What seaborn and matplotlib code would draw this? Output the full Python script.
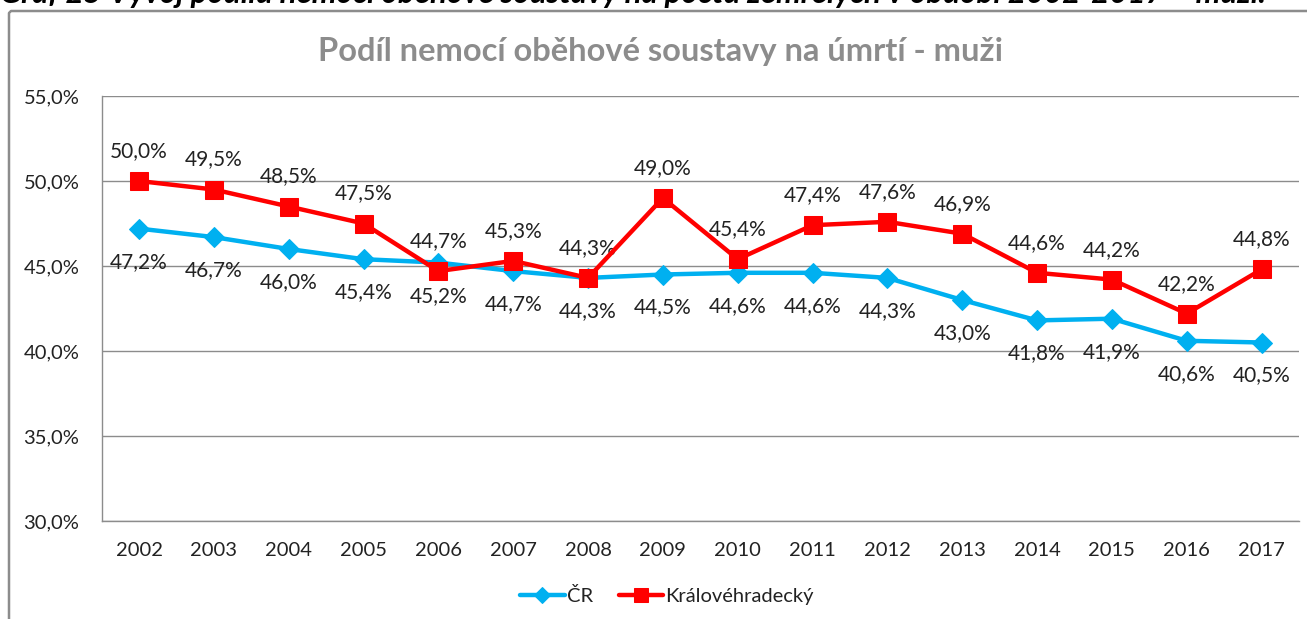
import matplotlib
matplotlib.use("Agg")
import matplotlib.pyplot as plt
import seaborn as sns
import pandas as pd
from matplotlib.lines import Line2D
from matplotlib.ticker import FuncFormatter, MultipleLocator

years = ["2002", "2003", "2004", "2005", "2006", "2007", "2008", "2009",
         "2010", "2011", "2012", "2013", "2014", "2015", "2016", "2017"]
cr_values = [47.2, 46.7, 46.0, 45.4, 45.2, 44.7, 44.3, 44.5,
             44.6, 44.6, 44.3, 43.0, 41.8, 41.9, 40.6, 40.5]
kh_values = [50.0, 49.5, 48.5, 47.5, 44.7, 45.3, 44.3, 49.0,
             45.4, 47.4, 47.6, 46.9, 44.6, 44.2, 42.2, 44.8]
series_names = ["ČR", "Královéhradecký"]
title = "Podíl nemocí oběhové soustavy na úmrtí - muži"
caption = "Graf 25 Vývoj podílu nemocí oběhové soustavy na počtu zemřelých v období 2002-2017 – muži."

sns.set_style("white")
plt.rcParams["font.family"] = ["Lato", "DejaVu Sans"]

W, H = 1307, 619
fig = plt.figure(figsize=(W / 100, H / 100), dpi=100)
fig.patch.set_facecolor("white")

# outer chart frame: left and top edges (figure pixels from top-left)
frame_x = [9, 9, 11, W + 5]
frame_y = [H + 5, 13, 11, 11]
fig.add_artist(Line2D([x / W for x in frame_x], [1 - y / H for y in frame_y],
                      transform=fig.transFigure, color="#8c8c8c",
                      linewidth=1.8, solid_joinstyle="round", zorder=0))

fig.text(0.0, 1.0 - 3 / H, caption, fontsize=22.5, fontweight="bold",
         fontstyle="italic", ha="left", va="baseline", color="#000000")

ax = fig.add_axes([101.6 / W, 1 - 521 / H, (1299 - 101.6) / W, (521 - 96) / H])

idx = list(range(len(years)))
df_cr = pd.DataFrame({"i": idx, "v": cr_values, "s": series_names[0]})
df_kh = pd.DataFrame({"i": idx, "v": kh_values, "s": series_names[1]})

blue = "#00B0F0"
red = "#FF0000"
sns.lineplot(data=df_cr, x="i", y="v", ax=ax, color=blue, linewidth=3.2,
             marker="D", markersize=10, markeredgecolor=blue, label=series_names[0],
             zorder=3)
sns.lineplot(data=df_kh, x="i", y="v", ax=ax, color=red, linewidth=3.2,
             marker="s", markersize=13, markeredgecolor=red, label=series_names[1],
             zorder=4)

for i, v in enumerate(cr_values):
    ax.annotate(f"{v:.1f}%".replace(".", ","), (i, v), xytext=(0, -33),
                textcoords="offset pixels", ha="center", va="center",
                fontsize=15, color="#222222")
for i, v in enumerate(kh_values):
    ax.annotate(f"{v:.1f}%".replace(".", ","), (i, v), xytext=(0, 30),
                textcoords="offset pixels", ha="center", va="center",
                fontsize=15, color="#222222")

ax.set_xlim(-0.5, len(years) - 0.5)
ax.set_ylim(30, 55)
ax.yaxis.set_major_locator(MultipleLocator(5))
ax.yaxis.set_major_formatter(FuncFormatter(lambda y, p: f"{y:.1f}%".replace(".", ",")))
ax.set_xticks(idx)
ax.set_xticklabels(years)
ax.tick_params(axis="both", length=0, labelsize=14.5, colors="#222222")
ax.tick_params(axis="x", pad=15)
ax.tick_params(axis="y", pad=16)
ax.set_xlabel("")
ax.set_ylabel("")
ax.grid(axis="y", color="#8c8c8c", linewidth=1)
ax.set_axisbelow(True)
for s in ["top", "right"]:
    ax.spines[s].set_visible(False)
for s in ["left", "bottom"]:
    ax.spines[s].set_color("#8c8c8c")
    ax.spines[s].set_linewidth(1)

fig.text(661 / W, 1 - 51 / H, title, fontsize=23.5, fontweight="bold",
         color="#8c8c8c", ha="center", va="center")

leg = ax.legend(loc="center", bbox_to_anchor=(667 / W, 1 - 596 / H),
                bbox_transform=fig.transFigure, ncol=2, frameon=False,
                fontsize=14.5, handlelength=2.2, handletextpad=0.1,
                columnspacing=1.3, markerscale=0.8)
for t in leg.get_texts():
    t.set_color("#222222")

fig.savefig("out.png", dpi=100, facecolor="white")
